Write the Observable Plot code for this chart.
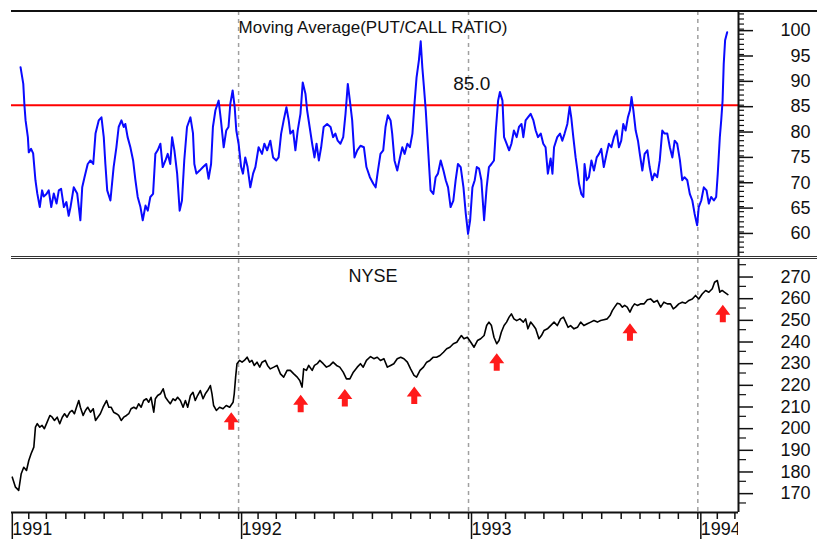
<!DOCTYPE html>
<html><head><meta charset="utf-8">
<script src="https://cdn.jsdelivr.net/npm/d3@7"></script>
<script src="https://cdn.jsdelivr.net/npm/@observablehq/plot@0.6"></script>
<style>
html,body{margin:0;padding:0;background:#fff;}
#chart{position:relative;width:823px;height:539px;overflow:hidden;font-family:"Liberation Sans",Arial,sans-serif;background:#fff;}
#chart svg{position:absolute;left:0;}
.hline{position:absolute;left:11px;width:806px;}
</style></head><body><div id="chart"></div>
<script>
// ---- Data (dates as decimal years) ----
const pcYears = [1991.049,1991.061,1991.066,1991.071,1991.081,1991.085,1991.095,1991.104,1991.114,1991.122,1991.133,1991.143,1991.150,1991.162,1991.172,1991.183,1991.194,1991.206,1991.216,1991.226,1991.238,1991.249,1991.259,1991.267,1991.281,1991.296,1991.310,1991.318,1991.328,1991.342,1991.354,1991.366,1991.376,1991.390,1991.402,1991.412,1991.419,1991.427,1991.441,1991.455,1991.467,1991.477,1991.489,1991.499,1991.506,1991.516,1991.528,1991.540,1991.550,1991.560,1991.572,1991.582,1991.594,1991.604,1991.615,1991.627,1991.637,1991.647,1991.659,1991.669,1991.681,1991.691,1991.702,1991.710,1991.720,1991.732,1991.743,1991.753,1991.763,1991.775,1991.790,1991.801,1991.807,1991.816,1991.830,1991.845,1991.859,1991.869,1991.880,1991.888,1991.899,1991.913,1991.923,1991.935,1991.946,1991.956,1991.964,1991.974,1991.983,1991.990,1992.000,1992.011,1992.019,1992.029,1992.039,1992.051,1992.063,1992.073,1992.087,1992.102,1992.112,1992.124,1992.138,1992.150,1992.164,1992.174,1992.185,1992.196,1992.208,1992.218,1992.225,1992.237,1992.247,1992.257,1992.269,1992.279,1992.291,1992.298,1992.309,1992.320,1992.330,1992.339,1992.349,1992.359,1992.370,1992.385,1992.400,1992.411,1992.421,1992.431,1992.443,1992.455,1992.465,1992.475,1992.484,1992.494,1992.504,1992.516,1992.530,1992.545,1992.556,1992.571,1992.586,1992.596,1992.606,1992.617,1992.629,1992.639,1992.649,1992.661,1992.668,1992.678,1992.690,1992.702,1992.712,1992.722,1992.734,1992.745,1992.756,1992.766,1992.774,1992.784,1992.792,1992.799,1992.806,1992.814,1992.821,1992.828,1992.835,1992.847,1992.857,1992.867,1992.879,1992.891,1992.901,1992.911,1992.922,1992.934,1992.944,1992.954,1992.966,1992.978,1992.988,1992.998,1993.007,1993.017,1993.027,1993.036,1993.046,1993.056,1993.068,1993.079,1993.089,1993.100,1993.111,1993.119,1993.129,1993.137,1993.148,1993.155,1993.166,1993.177,1993.187,1993.198,1993.210,1993.220,1993.231,1993.239,1993.249,1993.259,1993.271,1993.283,1993.293,1993.303,1993.315,1993.326,1993.336,1993.346,1993.358,1993.366,1993.373,1993.387,1993.399,1993.409,1993.419,1993.431,1993.441,1993.448,1993.457,1993.467,1993.475,1993.482,1993.492,1993.501,1993.506,1993.515,1993.525,1993.536,1993.547,1993.559,1993.569,1993.579,1993.590,1993.602,1993.612,1993.623,1993.634,1993.646,1993.656,1993.666,1993.675,1993.685,1993.695,1993.704,1993.711,1993.719,1993.729,1993.739,1993.747,1993.758,1993.768,1993.780,1993.790,1993.801,1993.811,1993.823,1993.834,1993.845,1993.855,1993.867,1993.878,1993.889,1993.899,1993.910,1993.922,1993.932,1993.942,1993.954,1993.965,1993.976,1993.986,1993.997,1994.004,1994.015,1994.026,1994.038,1994.048,1994.058,1994.070,1994.080,1994.087,1994.096,1994.102,1994.108,1994.113,1994.119,1994.128];
const pcValues = [92.5,89.2,85,82,78.7,75.7,76.4,75.5,70.2,67.6,64.9,68.2,67,67.5,68.2,64.9,67.6,65.6,68.2,68.5,64.9,65.9,63.2,64.9,68.8,67.6,62.3,68.8,70.8,73.4,74.1,73.4,79.4,82,82.6,78.7,73.4,68.2,66.2,72.8,76.7,80.7,82,80.7,81.3,78.7,76.7,74.1,70.2,66.9,64.9,62.3,65.2,64.2,66.9,67.5,75.4,76.1,77.4,72.8,74.1,75.4,73.4,78.7,76.1,71.5,64.2,66.2,74.1,80.7,82.6,79.5,73.4,71.5,72.1,72.8,73.4,70.5,73.4,80.7,84,85.9,82,76.7,80,80.7,85.3,87.9,84.6,80,77.4,72.8,71.5,74.7,72.8,68.8,71.5,72.8,76.7,75.4,77.4,76.1,78,74.7,74.1,74.7,79.4,82,84.6,82,79.4,80,76.1,80,83.3,89.5,87.2,84,80.7,77.4,74.7,77.4,74.1,76.7,80.7,81.3,80.7,78.7,79.4,78,77.4,78.7,83.3,89.2,85.9,82,74.7,76.1,77,76.7,72.8,70.8,69.5,68.8,72.1,75.4,76.1,80.7,83,82,79.4,74.1,72.1,74.7,76.7,75.4,77.4,76.7,79.4,85.9,90.5,93.8,97.6,92.5,88.6,84,78.7,73.4,68.2,67.5,70.8,71.5,74.1,72.1,70.2,68.8,64.9,66.2,70.2,73.4,72.8,68.8,63.6,59.6,62.3,68.8,70.2,72.8,72.5,70.2,62.3,68.8,72.8,73.4,74.1,80,85.9,87.6,85.9,78.7,77.4,76.1,77.4,80,78.7,80.7,81.3,78.7,82,82.6,83.3,82,80,78.7,79.4,77.4,76.7,71.5,74.5,71.5,76.7,78.7,79.4,78,79.4,81.3,84.7,82.6,78.7,74.7,72.1,69.5,67.5,66.9,73.4,70.2,70.8,74.1,72.1,74.7,75.4,76.4,72.8,75.4,77.4,76.7,78.7,80,76.7,78,81.3,80,82.6,84,86.6,84,80,78,75.4,72.1,75.4,76.1,72.8,70.2,71.5,70.8,74.1,80,79.4,79.4,76.7,74.7,78,77.4,74.1,70.2,70.8,70.2,67.5,66.2,63.6,61.3,64.9,66.2,68.8,68.2,65.6,66.9,66.2,66.9,71.5,78.7,82,85.9,93.2,97.8,99.4];

const nyseYears = [1991.013,1991.027,1991.041,1991.052,1991.063,1991.075,1991.085,1991.095,1991.107,1991.114,1991.122,1991.133,1991.143,1991.153,1991.165,1991.177,1991.187,1991.197,1991.209,1991.220,1991.231,1991.241,1991.252,1991.264,1991.274,1991.284,1991.293,1991.303,1991.310,1991.322,1991.332,1991.342,1991.354,1991.366,1991.376,1991.386,1991.397,1991.409,1991.424,1991.434,1991.444,1991.455,1991.467,1991.477,1991.488,1991.499,1991.511,1991.521,1991.531,1991.543,1991.554,1991.564,1991.575,1991.586,1991.598,1991.608,1991.618,1991.630,1991.637,1991.647,1991.659,1991.671,1991.681,1991.691,1991.702,1991.714,1991.724,1991.734,1991.746,1991.758,1991.768,1991.778,1991.790,1991.801,1991.811,1991.821,1991.833,1991.845,1991.855,1991.865,1991.877,1991.884,1991.891,1991.903,1991.917,1991.932,1991.946,1991.961,1991.976,1991.981,1991.987,1991.993,1992.004,1992.015,1992.025,1992.037,1992.048,1992.058,1992.068,1992.080,1992.092,1992.102,1992.116,1992.126,1992.138,1992.153,1992.167,1992.182,1992.196,1992.211,1992.225,1992.240,1992.255,1992.266,1992.276,1992.283,1992.295,1992.305,1992.320,1992.330,1992.342,1992.353,1992.368,1992.382,1992.397,1992.411,1992.426,1992.440,1992.455,1992.469,1992.484,1992.499,1992.516,1992.530,1992.542,1992.556,1992.574,1992.588,1992.603,1992.617,1992.632,1992.647,1992.661,1992.675,1992.690,1992.705,1992.719,1992.734,1992.748,1992.763,1992.774,1992.789,1992.804,1992.818,1992.832,1992.847,1992.861,1992.876,1992.891,1992.905,1992.919,1992.934,1992.949,1992.959,1992.969,1992.980,1992.995,1993.010,1993.024,1993.039,1993.053,1993.068,1993.079,1993.089,1993.100,1993.111,1993.123,1993.133,1993.143,1993.155,1993.166,1993.177,1993.187,1993.198,1993.210,1993.224,1993.239,1993.249,1993.259,1993.271,1993.283,1993.293,1993.307,1993.318,1993.329,1993.344,1993.358,1993.373,1993.387,1993.402,1993.414,1993.424,1993.434,1993.445,1993.460,1993.475,1993.489,1993.503,1993.518,1993.533,1993.547,1993.562,1993.576,1993.590,1993.605,1993.617,1993.627,1993.637,1993.649,1993.660,1993.671,1993.681,1993.692,1993.704,1993.714,1993.724,1993.736,1993.750,1993.765,1993.780,1993.794,1993.808,1993.823,1993.838,1993.852,1993.867,1993.881,1993.893,1993.903,1993.917,1993.932,1993.946,1993.961,1993.976,1993.990,1994.004,1994.019,1994.034,1994.048,1994.063,1994.073,1994.085,1994.096,1994.106,1994.116,1994.131];
const nyseValues = [176.9,172.3,170.8,178.5,181.5,180,184.6,187.7,190.8,200,201.6,200,200.8,199.3,202.3,205.4,204.6,203.1,204.6,201.6,204.6,206.2,204.6,206.9,207.7,206.2,209.2,212.3,209.2,205.4,207.7,209.2,206.9,208.5,203.1,204.6,206.2,209.2,212.3,209.2,209.2,206.9,206.2,205.4,203.1,204.6,205.4,206.2,208.5,209.2,208.5,210.8,209.2,212.3,213.1,211.5,213.8,206.9,213.1,214.6,215.4,217.7,213.8,212.3,210.8,213.1,212.3,213.8,212.3,209.2,212.3,209.2,214.6,216.1,212.3,214.6,216.9,213.1,215.4,216.9,219.2,215.4,210,207.7,209.2,208.5,210,209.2,211.5,215.4,223.1,229.3,230.8,230,230.8,232.3,230,230.8,228.5,230,227.7,230,230.8,228.5,226.9,227.7,228.5,224.6,223.1,226.2,226.2,224.6,223.1,221.5,218.5,226.9,226.2,228.5,226.2,228.5,229.3,230.8,229.3,227.7,228.5,230,228.5,227.7,225.4,222.3,222.3,225.4,227.7,229.3,227.7,230.8,232.6,231.6,232.3,230.8,231.6,227.7,228.5,229.3,231.6,232.3,231.6,230,226.9,223.9,223.1,226.2,227.7,230,230.8,232.3,232.3,233.1,234.6,236.2,236.9,238.5,239.2,240.8,242.3,240.8,241.5,239.2,236.9,240,240.8,242.3,246.9,248.5,246.9,241.5,238.5,240,243.8,246.9,248.5,250.8,252.3,250,249.2,250,248.5,250,245.4,248.5,246.9,245.4,240.8,242.3,244.6,245.4,246.9,248.5,246.9,250,250.8,248.5,246.1,246.9,245.4,246.1,248.5,246.9,247.7,248.5,249.2,248.5,249.2,249.6,250,251.5,253.8,255.4,257.2,256.9,255.4,256.2,255.4,253.1,255.4,256.9,256.2,256.9,256.9,258.8,259.2,257.7,258.5,255.4,257.7,256.9,256.9,254.6,255.4,256.9,257.7,257.2,258.5,259.2,260.8,259.2,261.5,263.1,262.3,263.9,266.9,267.7,262.3,263.1,262.3,261.2];

// buy-signal arrows (below NYSE)
const arrowYears = [1991.968,1992.270,1992.462,1992.764,1993.123,1993.704,1994.109];
const arrowValues = [202.7,210.8,213.5,214.6,230.0,243.8,252.3];

const threshold = 85;
const thresholdLabel = "85.0";
const thresholdLabelYear = 1993.014;
const topTitle = "Moving Average(PUT/CALL RATIO)";
const bottomTitle = "NYSE";
const pcTicks = [60,65,70,75,80,85,90,95,100];
const nyseTicks = [170,180,190,200,210,220,230,240,250,260,270];
const yearLabels = [1991,1992,1993,1994];

// ---- helpers ----
const toDate = d => { const y = Math.floor(d); const a = Date.UTC(y,0,1), b = Date.UTC(y+1,0,1); return new Date(a + (d - y) * (b - a)); };
const putCall = pcYears.map((t,i) => ({date: toDate(t), value: pcValues[i]}));
const nyse = nyseYears.map((t,i) => ({date: toDate(t), value: nyseValues[i]}));
const arrows = arrowYears.map((t,i) => ({date: toDate(t), value: arrowValues[i]}));
const xDomain = [toDate(1991.0096), toDate(1994.1774)];
const yearDates = yearLabels.map(y => new Date(Date.UTC(y,0,1)));
const monthDates = d3.utcMonth.range(xDomain[0], xDomain[1]);
const font = '"Liberation Sans", Arial, sans-serif';
const ink = "#111";

const arrowSymbol = {
  draw(ctx, size) {
    const s = Math.sqrt(size / Math.PI) / 9;
    ctx.moveTo(0, -9*s); ctx.lineTo(7.5*s, 1*s); ctx.lineTo(3*s, 1*s); ctx.lineTo(3*s, 8.5*s);
    ctx.lineTo(-3*s, 8.5*s); ctx.lineTo(-3*s, 1*s); ctx.lineTo(-7.5*s, 1*s); ctx.closePath();
  }
};

const common = {width: 823, marginLeft: 11, marginRight: 85,
  style: {fontFamily: font, background: "transparent", overflow: "visible"}};

const topPlot = Plot.plot({
  ...common, height: 258, marginTop: 11, marginBottom: 1,
  x: {type: "utc", domain: xDomain, axis: null},
  y: {domain: [54.96, 103.48], axis: null, label: null},
  marks: [
    Plot.ruleX(yearDates.slice(1), {stroke: "#a0a0a0", strokeWidth: 1.5, strokeDasharray: "4,4"}),
    Plot.ruleY([threshold], {stroke: "#ff0000", strokeWidth: 2}),
    Plot.lineY(putCall, {x: "date", y: "value", stroke: "#0a0aff", strokeWidth: 2}),
    Plot.text([thresholdLabel], {x: toDate(thresholdLabelYear), y: threshold, dy: -21, lineAnchor: "middle", text: d => d, fontSize: 19, fill: ink}),
    Plot.text([topTitle], {frameAnchor: "top", dx: -2, dy: 16, lineAnchor: "middle", text: d => d, fontSize: 17, fill: ink}),
    Plot.ruleX([xDomain[1]], {stroke: ink, strokeWidth: 2}),
    Plot.axisY({anchor: "right", ticks: d3.range(56, 104, 1), tickSize: 5, tickFormat: () => "", label: null, stroke: ink, strokeWidth: 1.2}),
    Plot.axisY({anchor: "right", ticks: pcTicks, tickSize: 14, tickPadding: 58, textAnchor: "end", dy: 1.5, fontSize: 18, label: null, stroke: ink, fill: ink, strokeWidth: 1.5})
  ]
});

const bottomPlot = Plot.plot({
  ...common, height: 281, marginTop: 1, marginBottom: 27,
  x: {type: "utc", domain: xDomain, axis: null},
  y: {domain: [160.6, 277.4], axis: null, label: null},
  marks: [
    Plot.ruleX(yearDates.slice(1), {stroke: "#a0a0a0", strokeWidth: 1.5, strokeDasharray: "4,4"}),
    Plot.lineY(nyse, {x: "date", y: "value", stroke: "#000", strokeWidth: 1.6}),
    Plot.dot(arrows, {x: "date", y: "value", symbol: arrowSymbol, r: 9, fill: "#ff1a1a", stroke: null}),
    Plot.text([bottomTitle], {frameAnchor: "top", dx: -2, dy: 16.5, lineAnchor: "middle", text: d => d, fontSize: 18, fill: ink}),
    Plot.ruleX([xDomain[1]], {stroke: ink, strokeWidth: 2}),
    Plot.ruleY([160.6], {stroke: ink, strokeWidth: 2}),
    Plot.axisY({anchor: "right", ticks: d3.range(165, 280, 10), tickSize: 7, tickFormat: () => "", label: null, stroke: ink, strokeWidth: 1.2}),
    Plot.axisY({anchor: "right", ticks: nyseTicks, tickSize: 14, tickPadding: 58, textAnchor: "end", dy: 1.5, fontSize: 18, label: null, stroke: ink, fill: ink, strokeWidth: 1.5}),
    Plot.axisX({anchor: "bottom", ticks: monthDates, tickSize: 7, tickFormat: () => "", label: null, stroke: ink, strokeWidth: 1.5}),
    Plot.axisX({anchor: "bottom", ticks: yearDates, tickSize: 27, tickPadding: -17, tickFormat: d3.utcFormat("%Y"), textAnchor: "start", dx: 3, fontSize: 18, label: null, stroke: ink, fill: ink, strokeWidth: 1.5})
  ]
});

const chart = document.getElementById("chart");
topPlot.style.top = "0px";
bottomPlot.style.top = "258px";
chart.appendChild(topPlot);
chart.appendChild(bottomPlot);

// clip year labels at the plot's right edge (the last one is cut, as in the original)
const svgB = d3.select(bottomPlot);
svgB.append("defs").append("clipPath").attr("id", "yearclip").attr("clipPathUnits", "userSpaceOnUse")
  .append("rect").attr("x", 0).attr("y", 0).attr("width", 738).attr("height", 281);
const wrap = svgB.append("g").attr("clip-path", "url(#yearclip)");
svgB.selectAll("text").filter(function() { return /^\d{4}$/.test(this.textContent); }).each(function() {
  const g = this.parentNode;
  if (g && g.parentNode && g !== wrap.node()) wrap.node().appendChild(g);
});

// panel borders
function hline(top, h, color) { const d = document.createElement("div"); d.className = "hline"; d.style.top = top + "px"; d.style.height = h + "px"; d.style.background = color; chart.appendChild(d); }
hline(10, 2, "#111");
hline(256, 1, "#333");
hline(258, 1, "#333");
</script>
</body></html>
